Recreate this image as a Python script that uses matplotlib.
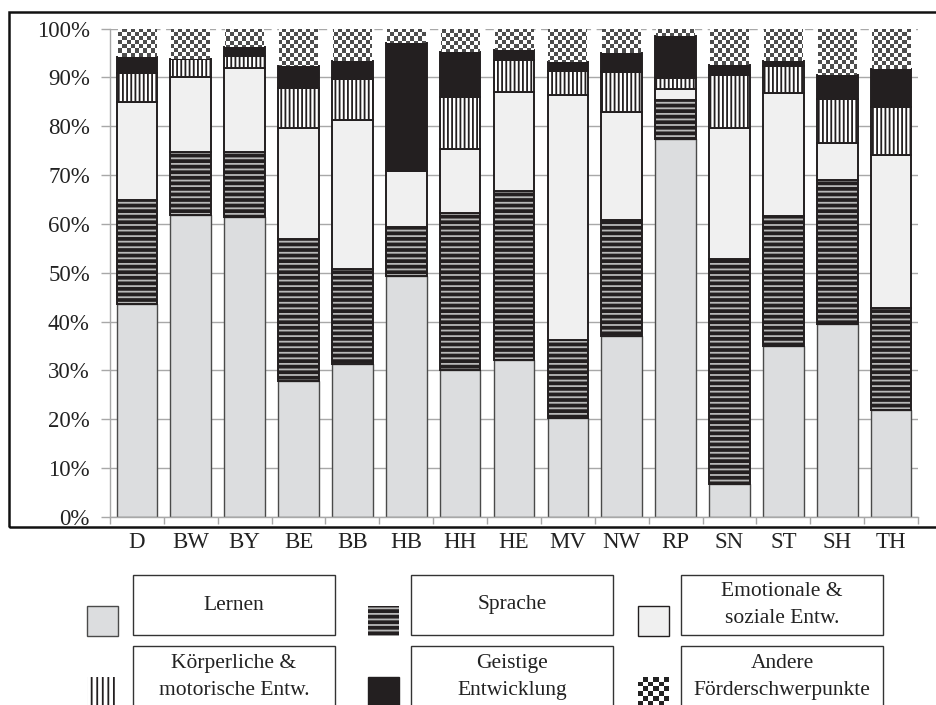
import matplotlib
matplotlib.use('Agg')
import matplotlib.pyplot as plt
from matplotlib.patches import Rectangle
from matplotlib.colors import ListedColormap
import numpy as np

plt.rcParams['font.family'] = ['Liberation Serif', 'DejaVu Serif']
plt.rcParams['hatch.linewidth'] = 1.3

# Anteile der Förderschwerpunkte je Land (in %)
laender = ['D', 'BW', 'BY', 'BE', 'BB', 'HB', 'HH', 'HE', 'MV', 'NW', 'RP', 'SN', 'ST', 'SH', 'TH']
lernen = [43.5, 61.9, 61.5, 27.9, 31.3, 49.4, 30.0, 32.1, 20.3, 37.0, 77.4, 6.6, 34.9, 39.4, 21.9]
sprache = [21.4, 12.8, 13.2, 29.1, 19.5, 9.9, 32.3, 34.6, 15.9, 23.9, 8.0, 46.3, 26.8, 29.6, 20.9]
emotional = [20.1, 15.3, 17.3, 22.6, 30.5, 11.5, 13.0, 20.4, 50.2, 22.1, 2.3, 26.7, 25.1, 7.6, 31.3]
koerper = [6.0, 3.7, 2.4, 8.2, 8.4, 0.0, 10.7, 6.4, 4.9, 8.1, 2.1, 10.9, 5.6, 9.0, 9.9]
geistig = [3.2, 0.0, 1.9, 4.6, 3.7, 26.3, 9.3, 2.1, 1.8, 3.9, 8.8, 2.1, 1.0, 4.9, 7.8]
andere = [5.8, 6.3, 3.7, 7.6, 6.6, 2.9, 4.7, 4.4, 6.9, 5.0, 1.4, 7.4, 6.6, 9.5, 8.2]

labels = ['Lernen', 'Sprache', 'Emotionale &\nsoziale Entw.',
          'Körperliche &\nmotorische Entw.', 'Geistige\nEntwicklung', 'Andere\nFörderschwerpunkte']

dark = '#231f20'
W, H = 937.0, 705.0


def fx(px):
    return px / W


def fy(py):
    return 1 - py / H


checker_cmap = ListedColormap(['white', '#4d4d4d'])

fig = plt.figure(figsize=(9.37, 7.05), dpi=100)
ax = fig.add_axes([fx(110), fy(516.7), (918 - 110) / W, (516.7 - 28.7) / H])

x = np.arange(len(laender))
bw = 0.755
bottom = np.zeros(len(laender))

ax.bar(x, lernen, bw, bottom=bottom, color='#dcdddf', edgecolor='#4a4a4a', linewidth=1.0)
bottom += lernen
ax.bar(x, sprache, bw, bottom=bottom, color=dark, edgecolor='#b8b8b8', hatch='---', linewidth=0)
ax.bar(x, sprache, bw, bottom=bottom, fill=False, edgecolor=dark, linewidth=1.4)
bottom += sprache
ax.bar(x, emotional, bw, bottom=bottom, color='#f0f0f0', edgecolor=dark, linewidth=1.4)
bottom += emotional
ax.bar(x, koerper, bw, bottom=bottom, color='white', edgecolor=dark, hatch='||||', linewidth=1.4)
bottom += koerper
ax.bar(x, geistig, bw, bottom=bottom, color=dark, edgecolor=dark, linewidth=1.4)
bottom += geistig

# Schachbrettmuster fuer "Andere"
checker = np.add.outer(np.arange(122), np.arange(202)) % 2
bars = ax.bar(x, andere, 0.72, bottom=bottom, facecolor='none', edgecolor='none')
for p in bars:
    im = ax.imshow(checker, cmap=checker_cmap, vmin=0, vmax=1, extent=(-0.5, 14.5, 0, 100),
                   aspect='auto', interpolation='nearest', zorder=2)
    im.set_clip_path(p)

ax.set_xlim(-0.5, 14.5)
ax.set_ylim(0, 100)
ax.set_axisbelow(True)

grid_c = '#a8a8a8'
ax.set_yticks(range(0, 101, 10))
ax.set_yticklabels([f'{v}%' for v in range(0, 101, 10)], fontsize=16.5)
ax.yaxis.grid(True, color=grid_c, linewidth=1.0)
ax.get_ygridlines()[-1].set_linestyle((0, (6, 4)))
ax.tick_params(axis='y', length=6.5, width=1.0, color=grid_c, pad=8, labelcolor='#222222')

ax.set_xticks(np.arange(-0.5, 15, 1))
ax.set_xticklabels([])
ax.set_xticks(x, laender, minor=True)
ax.tick_params(axis='x', which='major', length=5, width=1.0, color=grid_c)
ax.tick_params(axis='x', which='minor', length=0, pad=11, labelsize=16.5, labelcolor='#222222')

for s in ['top', 'right']:
    ax.spines[s].set_visible(False)
for s in ['left', 'bottom']:
    ax.spines[s].set_color(grid_c)
    ax.spines[s].set_linewidth(1.0)

# Rahmen um das Diagramm
fig.add_artist(Rectangle((fx(9), fy(527)), (950 - 9) / W, (527 - 12) / H, transform=fig.transFigure,
                         fill=False, edgecolor='#111111', linewidth=1.8, clip_on=False))

# Legende (Symbol + Kasten mit Text)
swatch_x = [87, 368, 638]
box_x = [(133, 335), (411, 613), (681, 883)]
rows = [((575, 635), (606, 636)), ((646, 710), (677, 710))]

swatch_styles = [
    dict(facecolor='#dcdddf', edgecolor='#4a4a4a', linewidth=1.0),
    dict(facecolor=dark, edgecolor='#b8b8b8', hatch='---', linewidth=0),
    dict(facecolor='#f0f0f0', edgecolor=dark, linewidth=1.0),
    dict(facecolor='white', edgecolor=dark, hatch='|||', linewidth=0),
    dict(facecolor=dark, edgecolor=dark, linewidth=1.0),
    None,
]

for i, lab in enumerate(labels):
    r, c = divmod(i, 3)
    (by0, by1), (sy0, sy1) = rows[r]
    bx0, bx1 = box_x[c]
    fig.add_artist(Rectangle((fx(bx0), fy(by1)), (bx1 - bx0) / W, (by1 - by0) / H,
                             transform=fig.transFigure, facecolor='white', edgecolor='#333333',
                             linewidth=1.0, clip_on=False))
    fig.text(fx((bx0 + bx1) / 2), fy((by0 + min(by1, 708)) / 2), lab, ha='center', va='center',
             fontsize=15.5, color='#222222', linespacing=1.55)
    sx = swatch_x[c]
    st = swatch_styles[i]
    if st is not None:
        fig.add_artist(Rectangle((fx(sx), fy(sy1)), 31 / W, (sy1 - sy0) / H,
                                 transform=fig.transFigure, clip_on=False, **st))
    else:
        sax = fig.add_axes([fx(sx), fy(sy1), 31 / W, (sy1 - sy0) / H])
        sax.imshow(np.add.outer(np.arange(7), np.arange(6)) % 2, cmap=ListedColormap(['white', '#222222']),
                   aspect='auto', interpolation='nearest')
        sax.axis('off')

plt.savefig('out.png', dpi=100)
